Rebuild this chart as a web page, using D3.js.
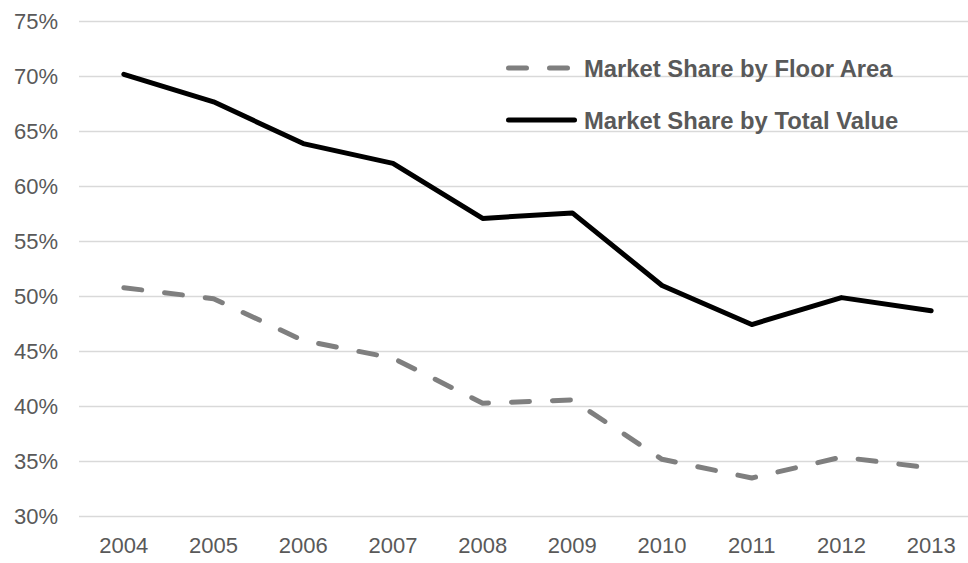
<!DOCTYPE html>
<html><head>
<meta charset="utf-8">
<title>Market Share</title>
<style>
  body, html {
    margin: 0;
    padding: 0;
    background-color: #fff;
    font-family: 'Liberation Sans', Arial, sans-serif;
  }
  .tick-label {
    fill: #595959;
    font-size: 22px;
  }
  .legend-label {
    fill: #595959;
    font-size: 23.8px;
    font-weight: bold;
  }
</style>
<script src="https://d3js.org/d3.v7.min.js"></script>
</head>
<body>
<svg id="chart" width="968" height="563"></svg>
<script>
const years = ["2004", "2005", "2006", "2007", "2008", "2009", "2010", "2011", "2012", "2013"];
const floorArea = [50.8, 49.8, 46.0, 44.4, 40.3, 40.6, 35.2, 33.5, 35.4, 34.4];
const totalValue = [70.2, 67.7, 63.9, 62.1, 57.1, 57.6, 51.0, 47.45, 49.9, 48.7];
const yTicks = [30, 35, 40, 45, 50, 55, 60, 65, 70, 75];
const seriesNames = ["Market Share by Floor Area", "Market Share by Total Value"];

const svg = d3.select("#chart");

const x = d3.scalePoint()
  .domain(years)
  .range([79, 976])
  .padding(0.5);

const y = d3.scaleLinear()
  .domain([30, 75])
  .range([516.5, 21.5]);

// gridlines
svg.append("g")
  .selectAll("line")
  .data(yTicks)
  .enter()
  .append("line")
  .attr("x1", 79)
  .attr("x2", 968)
  .attr("y1", d => y(d))
  .attr("y2", d => y(d))
  .attr("stroke", "#d9d9d9")
  .attr("stroke-width", 1.5);

// y labels
svg.append("g")
  .selectAll("text")
  .data(yTicks)
  .enter()
  .append("text")
  .attr("class", "tick-label")
  .attr("x", 58)
  .attr("y", d => y(d))
  .attr("dy", "0.36em")
  .attr("text-anchor", "end")
  .text(d => d + "%");

// x labels
svg.append("g")
  .selectAll("text")
  .data(years)
  .enter()
  .append("text")
  .attr("class", "tick-label")
  .attr("x", d => x(d))
  .attr("y", 553)
  .attr("text-anchor", "middle")
  .text(d => d);

const line = d3.line()
  .x((d, i) => x(years[i]))
  .y(d => y(d));

svg.append("path")
  .datum(floorArea)
  .attr("d", line)
  .attr("fill", "none")
  .attr("stroke", "#7f7f7f")
  .attr("stroke-width", 5)
  .attr("stroke-linecap", "round")
  .attr("stroke-linejoin", "round")
  .attr("stroke-dasharray", "18,23");

svg.append("path")
  .datum(totalValue)
  .attr("d", line)
  .attr("fill", "none")
  .attr("stroke", "#000")
  .attr("stroke-width", 5)
  .attr("stroke-linecap", "round")
  .attr("stroke-linejoin", "round");

// legend
const legend = svg.append("g");
const legendRows = [
  {name: seriesNames[0], color: "#7f7f7f", dash: "18,23", y: 68},
  {name: seriesNames[1], color: "#000", dash: null, y: 120}
];
legendRows.forEach(r => {
  legend.append("line")
    .attr("x1", 508.5)
    .attr("x2", 574.5)
    .attr("y1", r.y)
    .attr("y2", r.y)
    .attr("stroke", r.color)
    .attr("stroke-width", 5)
    .attr("stroke-linecap", "round")
    .attr("stroke-dasharray", r.dash);
  legend.append("text")
    .attr("class", "legend-label")
    .attr("x", 584)
    .attr("y", r.y)
    .attr("dy", "0.36em")
    .text(r.name);
});
</script>
</body></html>
